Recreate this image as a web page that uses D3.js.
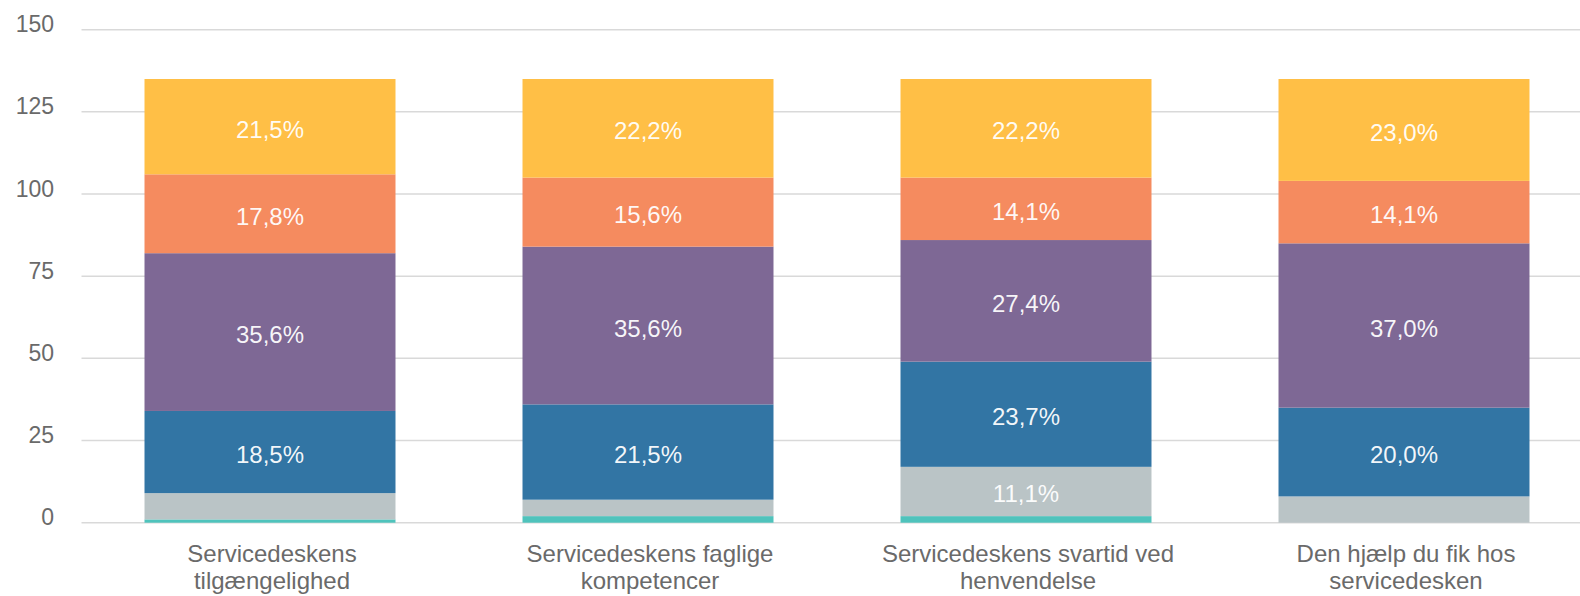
<!DOCTYPE html>
<html>
<head>
<meta charset="utf-8">
<script src="https://cdn.jsdelivr.net/npm/d3@7"></script>
<style>
  html, body { margin: 0; padding: 0; background: #fff; }
  svg { display: block; font-family: "Liberation Sans", Arial, sans-serif; }
</style>
</head>
<body>
<svg id="chart" width="1580" height="596"></svg>
<script>
// ---- Data ----
const categories = [
  "Servicedeskens tilgængelighed",
  "Servicedeskens faglige kompetencer",
  "Servicedeskens svartid ved henvendelse",
  "Den hjælp du fik hos servicedesken"
];
// bottom -> top stacking order (counts of respondents)
const seriesNames = ["Ved ikke", "Meget utilfreds", "Utilfreds", "Hverken/eller", "Tilfreds", "Meget tilfreds"];
const vedIkke       = [1, 2, 2, 0];
const megetUtilfreds= [8, 5, 15, 8];
const utilfreds     = [25, 29, 32, 27];
const hverkenEller  = [48, 48, 37, 50];
const tilfreds      = [24, 21, 19, 19];
const megetTilfreds = [29, 30, 30, 31];
const seriesColors = ["#4fc3bc", "#bac4c6", "#3275a4", "#7e6895", "#f58b5f", "#ffbf46"];
const yTicks = [0, 25, 50, 75, 100, 125, 150];

// ---- Build ----
const seriesValues = [vedIkke, megetUtilfreds, utilfreds, hverkenEller, tilfreds, megetTilfreds];
const rows = categories.map((c, i) => {
  const r = { category: c };
  seriesNames.forEach((s, j) => r[s] = seriesValues[j][i]);
  r.total = d3.sum(seriesValues, v => v[i]);
  return r;
});
const stack = d3.stack().keys(seriesNames)(rows);

const svg = d3.select("#chart");
const x = d3.scaleBand().domain(categories).range([81, 1593])
  .paddingInner(0.336).paddingOuter(0.168);
const y = d3.scaleLinear().domain([0, 150]).range([522.7, 29.7]);

// gridlines
svg.append("g").selectAll("line").data(yTicks).join("line")
  .attr("x1", 81.5).attr("x2", 1580)
  .attr("y1", d => y(d)).attr("y2", d => y(d))
  .attr("stroke", "#d9d9d9").attr("stroke-width", 1.5);

// y tick labels
svg.append("g").selectAll("text").data(yTicks).join("text")
  .attr("x", 54).attr("y", d => y(d) + 2.5)
  .attr("text-anchor", "end")
  .attr("font-size", 23).attr("fill", "#6a6a6a")
  .text(d => d);

// bars
const fmt = v => d3.format(".1f")(v).replace(".", ",") + "%";
const layers = svg.append("g").selectAll("g").data(stack).join("g")
  .attr("fill", (d, i) => seriesColors[i]);
layers.selectAll("rect").data(d => d).join("rect")
  .attr("x", d => x(d.data.category))
  .attr("width", x.bandwidth())
  .attr("y", d => y(d[1]))
  .attr("height", d => Math.max(0, y(d[0]) - y(d[1])));

// data labels
svg.append("g").selectAll("g").data(stack).join("g")
  .selectAll("text").data(d => d.filter(p => (p[1] - p[0]) / p.data.total >= 0.1)).join("text")
  .attr("x", d => x(d.data.category) + x.bandwidth() / 2)
  .attr("y", d => (y(d[0]) + y(d[1])) / 2 + 11)
  .attr("text-anchor", "middle")
  .attr("font-size", 24).attr("fill", "#fff").attr("fill-opacity", 0.95)
  .text(d => fmt((d[1] - d[0]) / d.data.total * 100));

// category labels (wrapped)
const catG = svg.append("g").selectAll("text").data(categories).join("text")
  .attr("x", d => x(d) + x.bandwidth() / 2 + 2)
  .attr("y", 562)
  .attr("text-anchor", "middle")
  .attr("font-size", 24).attr("fill", "#6a6a6a");
catG.each(function(d) {
  const t = d3.select(this);
  const words = d.split(" ");
  let line = [], lines = [];
  const tmp = t.append("tspan");
  words.forEach(w => {
    const test = line.concat(w).join(" ");
    tmp.text(test);
    if (tmp.node().getComputedTextLength() > 320 && line.length) {
      lines.push(line.join(" "));
      line = [w];
    } else line.push(w);
  });
  lines.push(line.join(" "));
  tmp.remove();
  lines.forEach((l, i) => {
    t.append("tspan").attr("x", t.attr("x")).attr("dy", i === 0 ? 0 : 27).text(l);
  });
});
</script>
</body>
</html>
